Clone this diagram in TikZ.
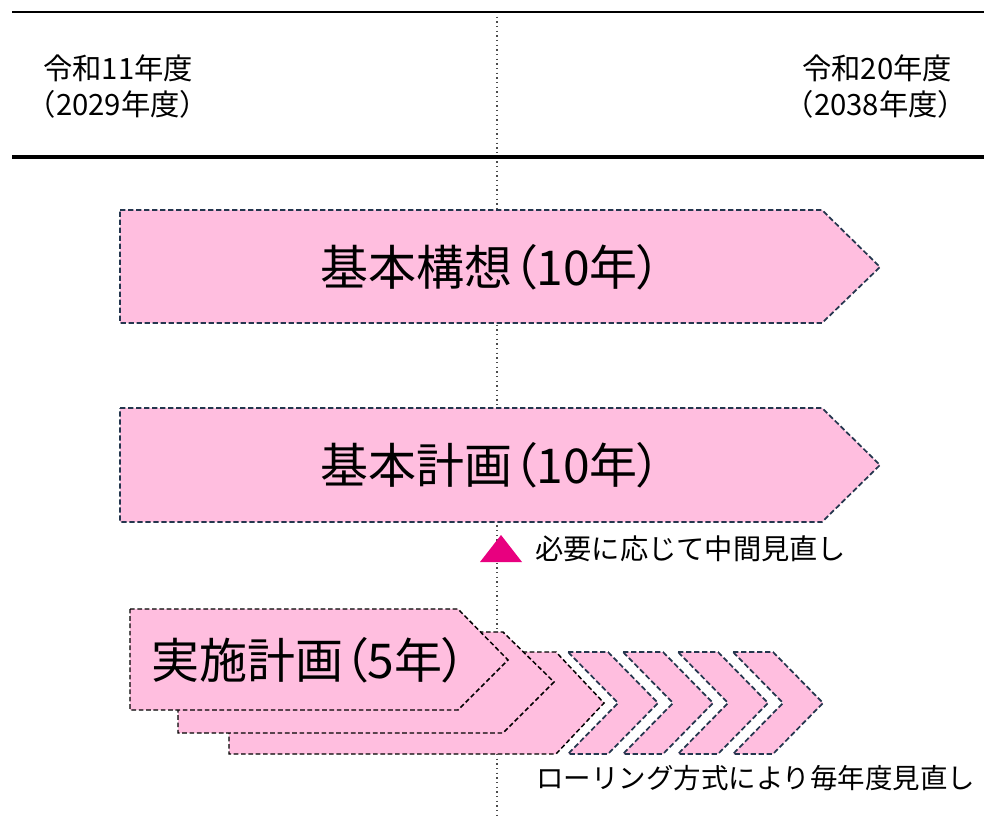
\documentclass[tikz,border=0pt]{standalone}
\usepackage{fontspec}
\setmainfont{Noto Sans CJK JP}
\newfontfamily\jpp[RawFeature={+palt}]{Noto Sans CJK JP}
\definecolor{boxfill}{HTML}{FFBEDF}
\definecolor{boxline}{HTML}{24364E}
\definecolor{tri}{HTML}{E8007F}
\tikzset{
  bigshape/.style={fill=boxfill, draw=boxline, line width=1.3pt, dash pattern=on 4pt off 2pt, line join=miter},
  stackshape/.style={fill=boxfill, draw=black, line width=1.1pt, dash pattern=on 3.5pt off 2pt, line join=miter},
  bigtext/.style={font=\jpp\fontsize{36}{42}\selectfont, inner sep=0pt},
  smalltext/.style={font=\fontsize{22}{26}\selectfont, inner sep=0pt},
  notetext/.style={font=\fontsize{21.2}{26}\selectfont, inner sep=0pt, anchor=west},
}
\begin{document}
\begin{tikzpicture}[x=0.75pt,y=-0.75pt]
\useasboundingbox (0,0) rectangle (984,816);
% vertical dotted line
\coordinate (vtop) at (497,12);
\coordinate (vbot) at (497,816);
\draw[gray!60!black, line width=0.8pt, dash pattern=on 1pt off 2.5pt] (vtop) -- (vbot);
% horizontal lines
\coordinate (tl) at (12,12); \coordinate (tr) at (984,12);
\coordinate (bl) at (12,157); \coordinate (br) at (984,157);
\draw[black, line width=1pt] (tl) -- (tr);
\draw[black, line width=3pt] (bl) -- (br);
% year labels
\node[smalltext] (y1a) at (118,68) {令和11年度};
\node[smalltext] (y1b) at (118,104) {（2029年度）};
\node[smalltext] (y2a) at (877,68) {令和20年度};
\node[smalltext] (y2b) at (876,104) {（2038年度）};
% big arrows
\draw[bigshape] (120,210) -- (822,210) -- (880,267) -- (822,323) -- (120,323) -- cycle;
\node[bigtext] (k1) at (491,267) {基本構想（10年）};
\draw[bigshape] (120,408) -- (822,408) -- (880,465) -- (822,522) -- (120,522) -- cycle;
\node[bigtext] (k2) at (491,465) {基本計画（10年）};
% triangle and note
\fill[tri] (480,562) -- (522,562) -- (501,535) -- cycle;
\node[notetext] (n1) at (535,549) {必要に応じて中間見直し};
% chevrons
\foreach \d in {0,55,110,165}{
  \draw[bigshape] ({568+\d},652) -- ({608+\d},652) -- ({658+\d},703) -- ({608+\d},754) -- ({568+\d},754) -- ({618+\d},703) -- cycle;
}
% stacked plans
\draw[stackshape] (229,652) -- (556,652) -- (604,703) -- (556,754) -- (229,754) -- cycle;
\draw[stackshape] (178,632) -- (503,632) -- (554,682) -- (503,733) -- (178,733) -- cycle;
\draw[stackshape] (130,609) -- (458,609) -- (508,660) -- (458,710) -- (130,710) -- cycle;
\node[bigtext] (j1) at (309,660) {実施計画（5年）};
\node[notetext, font=\fontsize{20.6}{26}\selectfont] (n2) at (536,778) {ローリング方式により毎年度見直し};
\end{tikzpicture}
\end{document}
